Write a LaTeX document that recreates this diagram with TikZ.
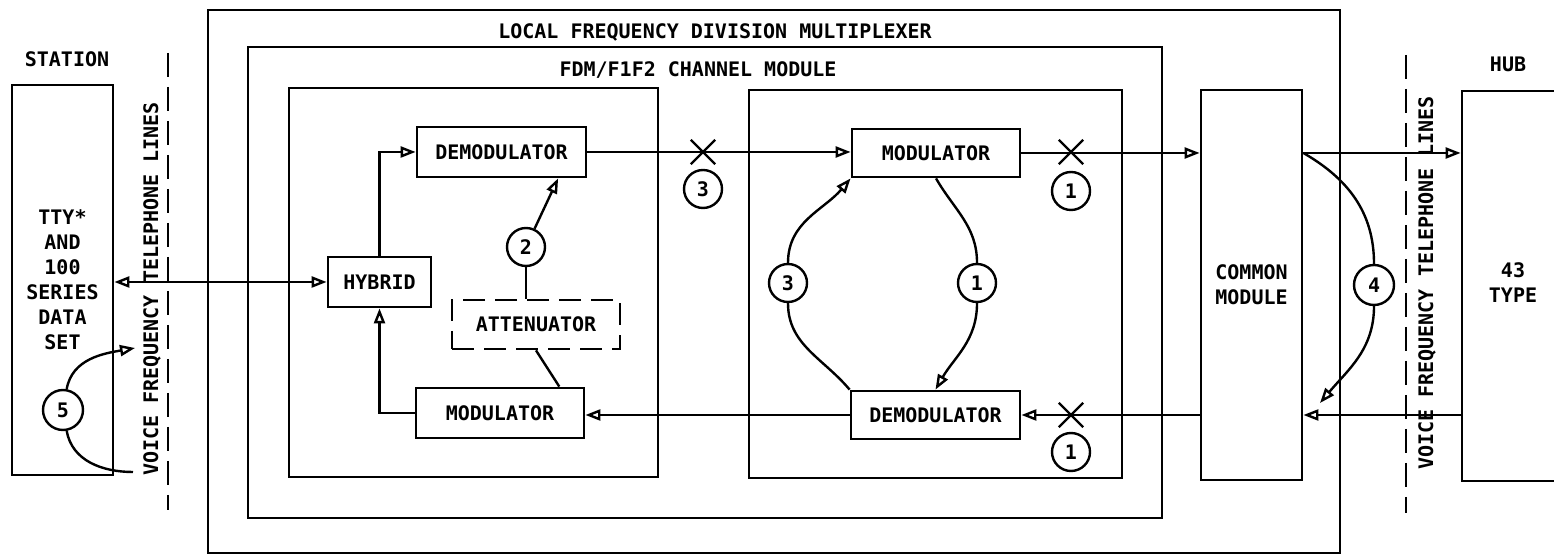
\documentclass[tikz,border=0pt]{standalone}
\usepackage{fontspec}
\setmainfont{DejaVu Sans Mono}
\usetikzlibrary{arrows.meta, shapes.misc}
\tikzset{
  blk/.style 2 args={
    draw, line width=2.8pt,
    minimum width=#1, minimum height=#2,
    inner sep=0pt, align=center
  },
  num/.style={draw, circle, line width=2.4pt, minimum size=38pt, inner sep=0pt},
  xmark/.style={draw, cross out, line width=2.4pt, minimum size=22pt, inner sep=0pt},
  split/.style={line width=2.4pt, dash pattern=on 24pt off 10pt},
}

\begin{document}
\begin{tikzpicture}[x=1pt, y=1pt, line width=2.4pt,
  >={Triangle[open, length=15pt, width=11pt]},
  font=\fontsize{20}{25}\selectfont\bfseries]
  \useasboundingbox (0,0) rectangle (1554,559);
  \clip (0,0) rectangle (1554,559);

  \node[blk={1132pt}{543pt}] (lfdm)  at (774,277.5)  {};
  \node[blk={914pt}{471pt}]  (chan)  at (705,276.5)  {};
  \node[blk={369pt}{389pt}]  (lside) at (473.5,276.5) {};
  \node[blk={373pt}{388pt}]  (rside) at (935.5,275)  {};
  \node[blk={101pt}{390pt}]  (cmod)  at (1251.5,274) {COMMON\\MODULE};
  \node[blk={200pt}{390pt}]  (hub)   at (1562,273)   {};
  \node[align=center]        (hubtxt) at (1513,276)  {43\\TYPE};
  \node[blk={101pt}{390pt}]  (sta)   at (62.5,279)
    {TTY*\\AND\\100\\SERIES\\DATA\\SET};

  \node (lfdmtitle) at (715,527) {LOCAL FREQUENCY DIVISION MULTIPLEXER};
  \node (chantitle) at (698,489) {FDM/F1F2 CHANNEL MODULE};
  \node (statitle)  at (67,500)  {STATION};
  \node (hubtitle)  at (1508,495) {HUB};

  \draw[split] (168,506) -- (168,49);
  \draw[split] (1406,504) -- (1406,46);
  \node[rotate=90] (vfl) at (152,270)  {VOICE FREQUENCY TELEPHONE LINES};
  \node[rotate=90] (vfr) at (1427,276) {VOICE FREQUENCY TELEPHONE LINES};

  \node[blk={169pt}{50pt}] (dem1) at (501.5,407) {DEMODULATOR};
  \node[blk={103pt}{50pt}] (hyb)  at (379.5,277) {HYBRID};
  \node[blk={168pt}{49pt}, dash pattern=on 22pt off 10pt]
                           (att)  at (536,234.5) {ATTENUATOR};
  \node[blk={168pt}{50pt}] (mod1) at (500,146)   {MODULATOR};
  \node[blk={168pt}{48pt}] (mod2) at (936,406)   {MODULATOR};
  \node[blk={169pt}{48pt}] (dem2) at (935.5,144) {DEMODULATOR};

  \node[num] (n2)  at (526,312)  {2};
  \node[num] (n3a) at (703,370)  {3};
  \node[num] (n1a) at (1071,368) {1};
  \node[num] (n1b) at (1071,107) {1};
  \node[num] (n3b) at (788,276)  {3};
  \node[num] (n1c) at (977,276)  {1};
  \node[num, minimum size=40pt] (n4) at (1374,274) {4};
  \node[num, minimum size=40pt] (n5) at (63,149)   {5};

  \node[xmark] (x3)  at (703,407)  {};
  \node[xmark] (x1a) at (1071,407) {};
  \node[xmark] (x1b) at (1071,144) {};

  \draw[<->] (sta.east |- hyb.west) -- (hyb.west);
  \draw[->] (hyb.north) |- (dem1.west);
  \draw[->] (mod1.west) -| (hyb.south);
  \draw[->] (n2) -- (dem1.335);
  \draw (n2) -- (n2 |- att.north);
  \draw (att.south) -- (mod1.24);
  \draw[->] (dem1.east) -- (dem1.east -| mod2.west);
  \draw[->] (mod2.east) -- (mod2.east -| cmod.west);
  \draw[->] (cmod.east |- mod2.east) -- (hub.west |- mod2.east);
  \draw[->] (hub.west |- dem2.east) -- (cmod.east |- dem2.east);
  \draw[->] (cmod.west |- dem2.east) -- (dem2.east);
  \draw[->] (dem2.west) -- (dem2.west -| mod1.east);

  \draw (mod2.south) to[out=-60, in=90] (n1c.north);
  \draw[->] (n1c.south) to[out=-90, in=60] (dem2.north);
  \draw (dem2.north west) to[out=130, in=-90] (n3b.south);
  \draw[->] (n3b.north) to[out=90, in=-130] (mod2.south west);

  \coordinate (tip4) at (1320,156);
  \draw (cmod.east |- mod2.east) to[out=-30, in=90] (n4.north);
  \draw[->] (n4.south) to[out=-90, in=50] (tip4);

  \coordinate (tip5) at (135,211);
  \coordinate (end5) at (133,87);
  \draw[->] (n5.80) to[out=80, in=190] (tip5);
  \draw (n5.-80) to[out=-80, in=180] (end5);
\end{tikzpicture}
\end{document}
